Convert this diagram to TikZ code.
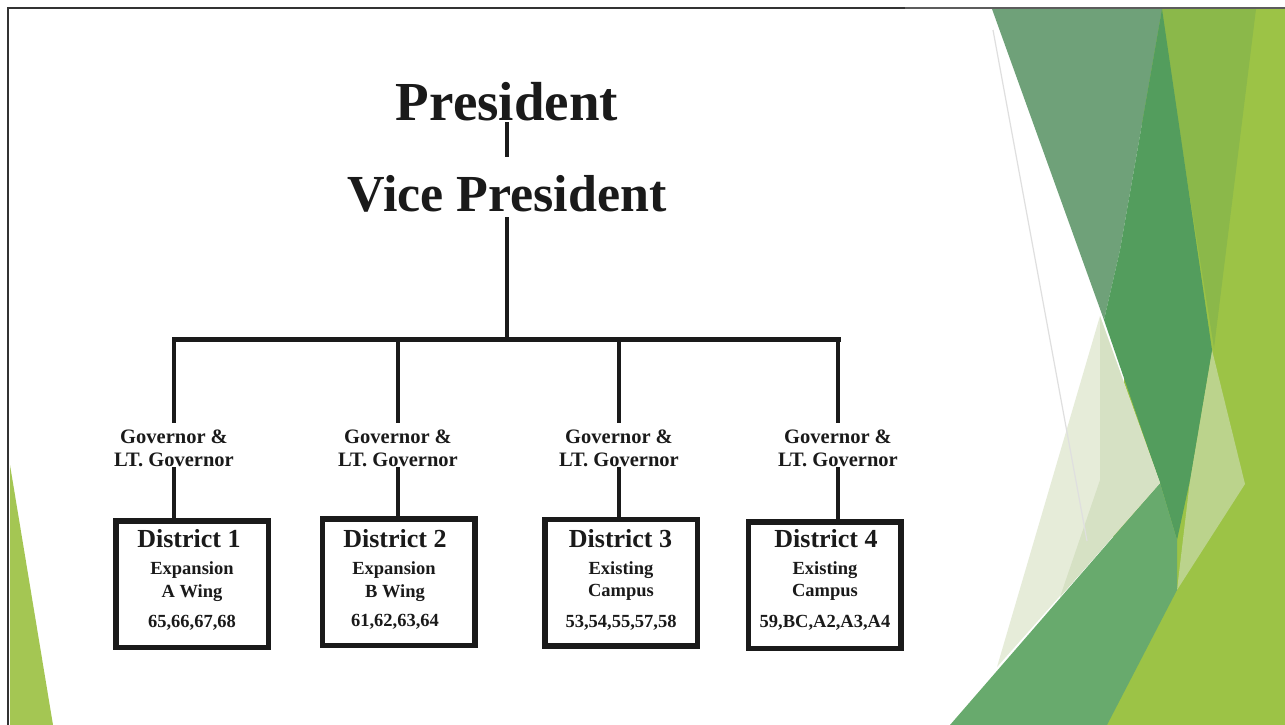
\documentclass[tikz,border=0pt]{standalone}
\usepackage{fontspec}
\setmainfont{Liberation Serif}
\newcommand\myfs[1]{\fontsize{#1}{#1}\selectfont\bfseries}
\definecolor{ink}{HTML}{1A1A1A}
\definecolor{framec}{HTML}{333333}
\definecolor{ygbright}{HTML}{9CC346}
\definecolor{ygmid}{HTML}{8BB84A}
\definecolor{ygpale}{HTML}{BBD38C}
\definecolor{graygreen}{HTML}{6FA179}
\definecolor{darkgreen}{HTML}{539D5D}
\definecolor{medgreen}{HTML}{68AA6D}
\definecolor{paleA}{HTML}{E6ECD9}
\definecolor{paleB}{HTML}{D6E1C4}
\definecolor{sliver}{HTML}{A4C653}
\begin{document}
\begin{tikzpicture}[x=1pt,y=-1pt,
  txt/.style={inner sep=0pt, anchor=base, text=ink},
  conn/.style={draw=ink, line width=4pt},
  barline/.style={draw=ink, line width=5pt, line cap=rect},
  box/.style={draw=ink, line width=5.5pt, fill=white, inner sep=0pt,
              minimum width=152.5pt, minimum height=126.5pt},
  govfont/.style={font={\myfs{20.5}}},
  dfont/.style={font={\myfs{26}}},
  sfont/.style={font={\myfs{18.5}}}]
\fill[white] (0,0) rectangle (1285,725);
\useasboundingbox (0,0) rectangle (1285,725);

% background facets
\fill[ygbright] (1150,9) -- (1285,9) -- (1285,725) -- (1100,725) -- cycle;
\fill[ygmid] (1160,9) -- (1256,9) -- (1214,348) -- cycle;
\fill[ygpale] (1212,350) -- (1245,484) -- (1177,590) -- (1190,480) -- cycle;
\fill[graygreen] (992,9) -- (1162,9) -- (1120,250) -- (1104,320) -- cycle;
\fill[darkgreen] (1162,9) -- (1212,350) -- (1190,480) -- (1177,540) -- (1160,483) -- (1104,320) -- (1120,250) -- cycle;
\fill[medgreen] (1160,483) -- (1177,540) -- (1177,590) -- (1107,725) -- (950,725) -- cycle;
\fill[paleA] (1100,316) -- (1160,483) -- (997,667) -- cycle;
\fill[paleB] (1100,316) -- (1160,483) -- (1060,597) -- (1100,480) -- cycle;
\draw[gray!25, line width=1.2pt] (993,30) -- (1087,541);
\fill[sliver] (10,465) -- (53,725) -- (10,725) -- cycle;

% frame
\draw[framec, line width=2.5pt] (8,725) -- (8,8) -- (905,8);
\draw[framec!80, line width=2pt] (905,8) -- (1285,8);

% top of chart
\node[txt, font={\myfs{55}}, text depth=1pt] (pres) at (507,121) {President};
\node[txt, font={\myfs{52}}, text height=54pt, text depth=6pt] (vp) at (507,211) {Vice President};
\coordinate (bar) at (507,339);
\draw[conn, line width=3.5pt] (pres.south) -- (vp.north);
\draw[conn] (vp.south) -- (bar);

% governor labels
\node[txt, govfont, text height=20pt] (g1a) at (174,443) {Governor \&};
\node[txt, govfont, text depth=1pt] (g1b) at (174,466) {LT. Governor};
\node[txt, govfont, text height=20pt] (g2a) at (398,443) {Governor \&};
\node[txt, govfont, text depth=1pt] (g2b) at (398,466) {LT. Governor};
\node[txt, govfont, text height=20pt] (g3a) at (619,443) {Governor \&};
\node[txt, govfont, text depth=1pt] (g3b) at (619,466) {LT. Governor};
\node[txt, govfont, text height=20pt] (g4a) at (838,443) {Governor \&};
\node[txt, govfont, text depth=1pt] (g4b) at (838,466) {LT. Governor};

% district boxes
\node[box] (d1) at (192,584) {};
\node[box] (d2) at (398.5,582) {};
\node[box] (d3) at (621,582.5) {};
\node[box] (d4) at (824.5,585) {};

% connectors
\draw[barline] (g1a.north |- bar) -- (g4a.north |- bar);
\draw[conn] (g1a.north |- bar) -- (g1a.north);
\draw[conn] (g2a.north |- bar) -- (g2a.north);
\draw[conn] (g3a.north |- bar) -- (g3a.north);
\draw[conn] (g4a.north |- bar) -- (g4a.north);
\draw[conn] (g1b.south) -- (g1b.south |- d1.north);
\draw[conn] (g2b.south) -- (g2b.south |- d2.north);
\draw[conn] (g3b.south) -- (g3b.south |- d3.north);
\draw[conn] (g4b.south) -- (g4b.south |- d4.north);

% box texts
\node[txt, dfont] (d1t) at (189,547) {District 1};
\node[txt, sfont] (d1a) at (192,574) {Expansion};
\node[txt, sfont] (d1b) at (192,597) {A Wing};
\node[txt, sfont] (d1c) at (192,627) {65,66,67,68};

\node[txt, dfont] (d2t) at (395,547) {District 2};
\node[txt, sfont] (d2a) at (394,574) {Expansion};
\node[txt, sfont] (d2b) at (395,597) {B Wing};
\node[txt, sfont] (d2c) at (395,626) {61,62,63,64};

\node[txt, dfont] (d3t) at (620.5,547) {District 3};
\node[txt, sfont] (d3a) at (621,574) {Existing};
\node[txt, sfont] (d3b) at (621,596) {Campus};
\node[txt, sfont] (d3c) at (621,627) {53,54,55,57,58};

\node[txt, dfont] (d4t) at (826,547) {District 4};
\node[txt, sfont] (d4a) at (825,574) {Existing};
\node[txt, sfont] (d4b) at (825,596) {Campus};
\node[txt, sfont] (d4c) at (825,627) {59,BC,A2,A3,A4};
\end{tikzpicture}
\end{document}
